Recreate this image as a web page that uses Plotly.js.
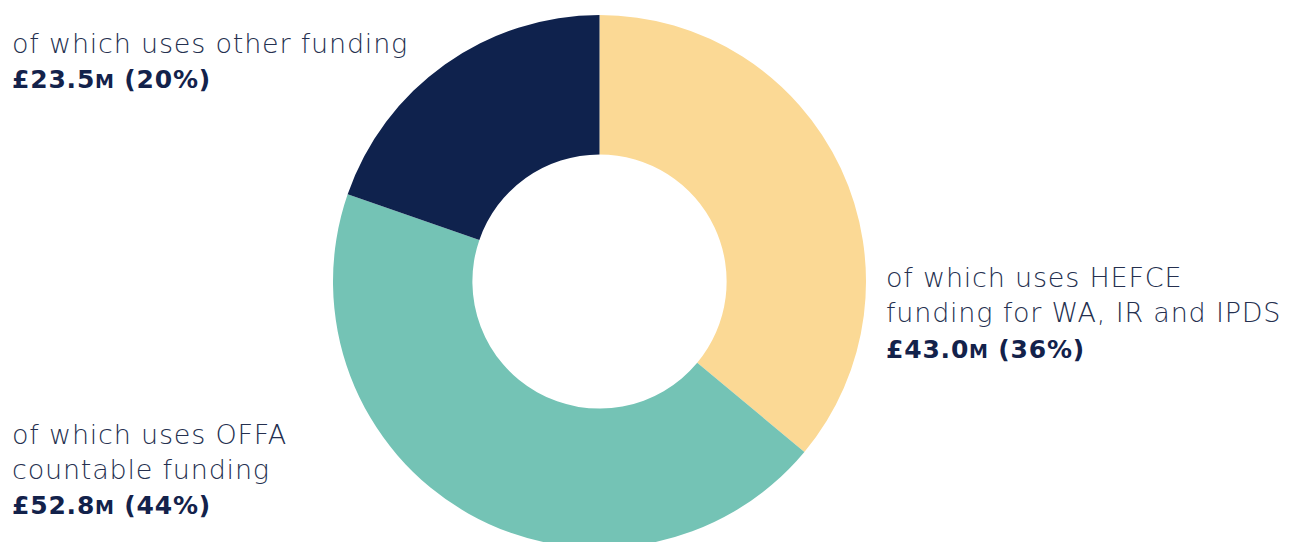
<!DOCTYPE html>
<html>
<head>
<meta charset="utf-8">
<script src="https://cdn.plot.ly/plotly-3.0.1.min.js"></script>
<style>
html,body{margin:0;padding:0;background:#fff;overflow:hidden;width:1293px;height:542px;}
#chart{width:1293px;height:549px;}
#chart .annotation-text{letter-spacing:0.8px;}
</style>
</head>
<body>
<div id="chart"></div>
<script>
const categories = [
  "of which uses HEFCE funding for WA, IR and IPDS",
  "of which uses OFFA countable funding",
  "of which uses other funding"
];
const values = [43.0, 52.8, 23.5];
const percents = [36, 44, 20];
const colors = ["#FBD995", "#74C3B5", "#0F224D"];

const W = 1293, H = 549;
const px = x => x / W;
const py = y => 1 - y / H;

const lightColor = "#25304F";
const boldColor = "#13224B";
const fam = "'DejaVu Sans', sans-serif";

function valueText(i){
  return "<b>£" + values[i].toFixed(1) + "<span style='font-size:19px'>M</span> (" + percents[i] + "%)</b>";
}

function line(text, x, yBase, bold){
  return {
    xref: "paper", yref: "paper",
    x: px(x), y: py(yBase + 8),
    xanchor: "left", yanchor: "bottom",
    showarrow: false,
    text: text,
    align: "left",
    font: {family: fam, size: bold ? 25 : 27, color: bold ? boldColor : lightColor, weight: bold ? 700 : 200}
  };
}

const annotations = [
  line("of which uses other funding", 10, 53, false),
  line(valueText(2), 10, 88, true),
  line("of which uses HEFCE", 884, 287, false),
  line("funding for WA, IR and IPDS", 884, 322, false),
  line(valueText(0), 884, 358, true),
  line("of which uses OFFA", 10, 444, false),
  line("countable funding", 10, 479, false),
  line(valueText(1), 10, 514, true)
];

const trace = {
  type: "pie",
  labels: categories,
  values: values,
  marker: {colors: colors, line: {width: 0}},
  hole: 0.477,
  sort: false,
  direction: "clockwise",
  rotation: 0,
  textinfo: "none",
  hoverinfo: "label+value+percent",
  domain: {x: [px(333), px(866)], y: [py(548), py(15)]},
  showlegend: false
};

const layout = {
  width: W, height: H,
  margin: {l: 0, r: 0, t: 0, b: 0},
  paper_bgcolor: "#fff",
  plot_bgcolor: "#fff",
  showlegend: false,
  annotations: annotations
};

Plotly.newPlot("chart", [trace], layout, {displayModeBar: false, staticPlot: true});
</script>
</body>
</html>
